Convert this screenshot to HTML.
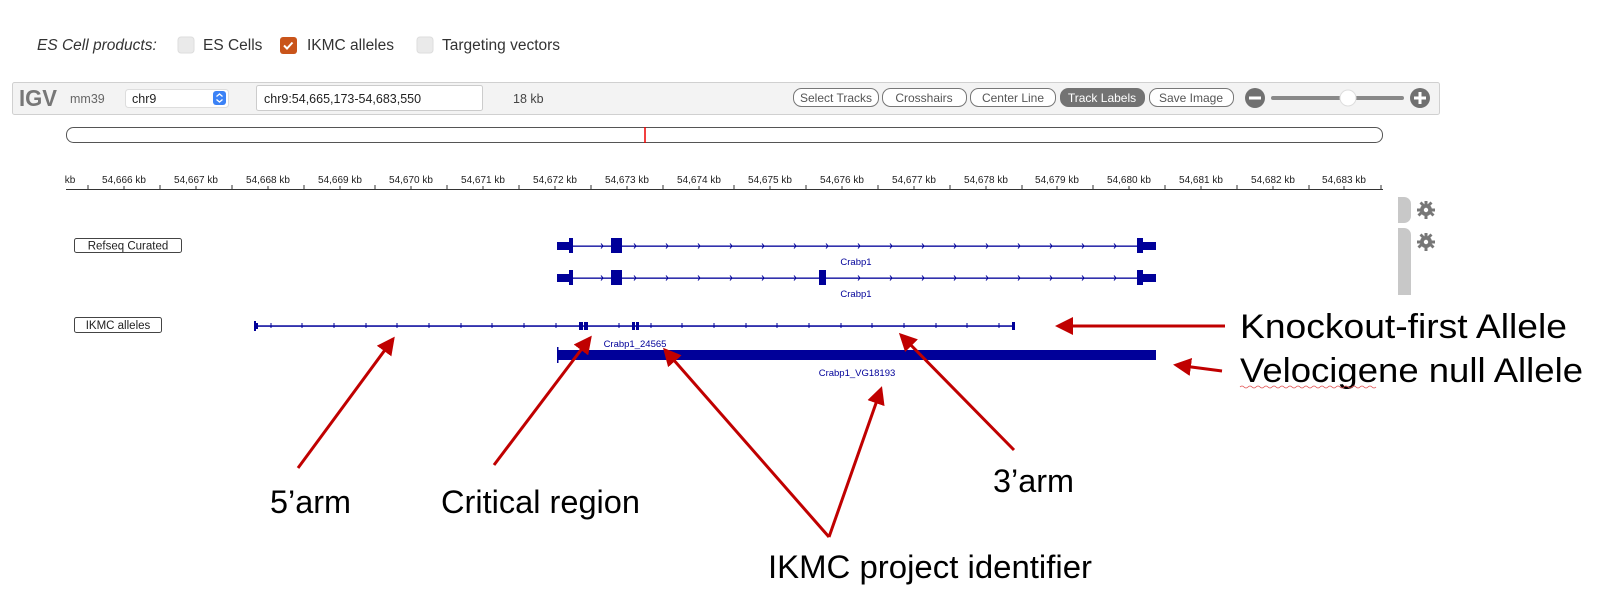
<!DOCTYPE html>
<html><head><meta charset="utf-8"><style>
html,body{margin:0;padding:0;background:#fff;width:1600px;height:614px;overflow:hidden}
svg{display:block}
</style></head><body>
<svg width="1600" height="614" xmlns="http://www.w3.org/2000/svg" font-family="Liberation Sans, Arial, sans-serif">
<!-- header -->
<text x="37" y="50" font-size="15.5" font-style="italic" fill="#333">ES Cell products:</text>
<rect x="178" y="37" width="16" height="16" rx="3" fill="#eaeaea" stroke="#ddd"/>
<text x="203" y="50" font-size="15.5" fill="#333">ES Cells</text>
<rect x="280" y="37" width="17" height="17" rx="3" fill="#c9541a"/>
<path d="M284 45.5 l3 3 l5.5 -6" stroke="#fff" stroke-width="2" fill="none"/>
<text x="307" y="50" font-size="15.5" fill="#333">IKMC alleles</text>
<rect x="417" y="37" width="16" height="16" rx="3" fill="#eaeaea" stroke="#ddd"/>
<text x="442" y="50" font-size="15.5" fill="#333">Targeting vectors</text>

<!-- IGV bar -->
<rect x="12.5" y="82.5" width="1427" height="32" rx="2" fill="#f3f3f3" stroke="#d0d0d0"/>
<text x="19" y="106" font-size="23" font-weight="bold" fill="#777" textLength="38" lengthAdjust="spacingAndGlyphs">IGV</text>
<text x="70" y="103" font-size="12.5" fill="#666">mm39</text>
<rect x="125.5" y="89.5" width="103" height="18" rx="3" fill="#fff" stroke="#ddd"/>
<text x="132" y="103" font-size="12.5" fill="#222">chr9</text>
<rect x="213" y="91" width="13" height="14" rx="3" fill="#3b82f6"/>
<path d="M216.5 96.5 l3 -2.5 l3 2.5 M216.5 99.5 l3 2.5 l3 -2.5" stroke="#fff" stroke-width="1.3" fill="none"/>
<rect x="256.5" y="85.5" width="226" height="25" rx="2" fill="#fff" stroke="#ccc"/>
<text x="264" y="103" font-size="12.5" fill="#222">chr9:54,665,173-54,683,550</text>
<text x="513" y="103" font-size="12.5" fill="#444">18 kb</text>
<g font-size="12" text-anchor="middle">
<rect x="793.5" y="88.5" width="85" height="18" rx="8" fill="#fff" stroke="#777"/><text x="836" y="102" fill="#555">Select Tracks</text>
<rect x="882.5" y="88.5" width="84" height="18" rx="8" fill="#fff" stroke="#777"/><text x="924" y="102" fill="#555">Crosshairs</text>
<rect x="970.5" y="88.5" width="85" height="18" rx="8" fill="#fff" stroke="#777"/><text x="1013" y="102" fill="#555">Center Line</text>
<rect x="1060.5" y="88.5" width="84" height="18" rx="8" fill="#737373" stroke="#737373"/><text x="1102" y="102" fill="#fff">Track Labels</text>
<rect x="1149.5" y="88.5" width="84" height="18" rx="8" fill="#fff" stroke="#777"/><text x="1191" y="102" fill="#555">Save Image</text>
</g>
<circle cx="1255" cy="98" r="10" fill="#707070"/><rect x="1249" y="96.5" width="12" height="3" fill="#fff"/>
<rect x="1271" y="96" width="133" height="4" rx="2" fill="#888"/>
<circle cx="1348" cy="98" r="8" fill="#fff" stroke="#ddd"/>
<circle cx="1420" cy="98" r="10" fill="#707070"/><rect x="1414" y="96.5" width="12" height="3" fill="#fff"/><rect x="1418.5" y="92" width="3" height="12" fill="#fff"/>

<!-- ideogram -->
<rect x="66.5" y="127.5" width="1316" height="15" rx="7" fill="#fff" stroke="#555"/>
<line x1="645" y1="127" x2="645" y2="143" stroke="#e00" stroke-width="1.5"/>

<!-- ruler -->
<g font-size="10" fill="#222" text-anchor="middle" id="ruler">
<text x="70" y="183" text-anchor="middle">kb</text>
<text x="124" y="183">54,666 kb</text><text x="196" y="183">54,667 kb</text><text x="268" y="183">54,668 kb</text><text x="340" y="183">54,669 kb</text><text x="411" y="183">54,670 kb</text><text x="483" y="183">54,671 kb</text><text x="555" y="183">54,672 kb</text><text x="627" y="183">54,673 kb</text><text x="699" y="183">54,674 kb</text><text x="770" y="183">54,675 kb</text><text x="842" y="183">54,676 kb</text><text x="914" y="183">54,677 kb</text><text x="986" y="183">54,678 kb</text><text x="1057" y="183">54,679 kb</text><text x="1129" y="183">54,680 kb</text><text x="1201" y="183">54,681 kb</text><text x="1273" y="183">54,682 kb</text><text x="1344" y="183">54,683 kb</text>
</g>
<line x1="66" y1="189.5" x2="1383" y2="189.5" stroke="#333"/>
<path stroke="#333" d="M88 189v-4M160 189v-4M232 189v-4M304 189v-4M375 189v-4M447 189v-4M519 189v-4M591 189v-4M663 189v-4M734 189v-4M806 189v-4M878 189v-4M950 189v-4M1022 189v-4M1093 189v-4M1165 189v-4M1237 189v-4M1309 189v-4M1381 189v-4M124 189v-3M196 189v-3M268 189v-3M340 189v-3M411 189v-3M483 189v-3M555 189v-3M627 189v-3M699 189v-3M770 189v-3M842 189v-3M914 189v-3M986 189v-3M1057 189v-3M1129 189v-3M1201 189v-3M1273 189v-3M1344 189v-3"/>

<!-- side bars & gears -->
<path d="M1398 197h6a7 7 0 0 1 7 7v12a7 7 0 0 1 -7 7h-6z" fill="#c8c8c8"/>
<path d="M1398 228h6a7 7 0 0 1 7 7v60h-13z" fill="#c8c8c8"/>
<g fill="#777">
<circle cx="1426" cy="210" r="6"/><circle cx="1426" cy="242" r="6"/>
<path d="M1424.5 201h3v18h-3zM1417 208.5h18v3h-18z"/><path d="M1424.5 233h3v18h-3zM1417 240.5h18v3h-18z"/>
<path d="M1419.5 203.5l2 -2l13 13l-2 2zM1430.5 201.5l2 2l-13 13l-2 -2z"/><path d="M1419.5 235.5l2 -2l13 13l-2 2zM1430.5 233.5l2 2l-13 13l-2 -2z"/>
</g>
<circle cx="1426" cy="210" r="2.2" fill="#fff"/><circle cx="1426" cy="242" r="2.2" fill="#fff"/>

<!-- track labels -->
<rect x="74.5" y="238.5" width="107" height="14" rx="2" fill="#fff" stroke="#444"/>
<text x="128" y="249.5" font-size="11.5" text-anchor="middle" fill="#222">Refseq Curated</text>
<rect x="74.5" y="317.5" width="87" height="15" rx="2" fill="#fff" stroke="#444"/>
<text x="118" y="329" font-size="11.5" text-anchor="middle" fill="#222">IKMC alleles</text>

<!-- genes -->
<g fill="#000099" stroke="none">
<rect x="557" y="245.5" width="580" height="1.3"/>
<rect x="557" y="242" width="12" height="8"/><rect x="569" y="238" width="4" height="15"/>
<rect x="611" y="238" width="11" height="15"/>
<rect x="1137" y="238" width="6" height="15"/><rect x="1143" y="242" width="13" height="8"/>
<rect x="557" y="277.5" width="580" height="1.3"/>
<rect x="557" y="274" width="12" height="8"/><rect x="569" y="270" width="4" height="15"/>
<rect x="611" y="270" width="11" height="15"/>
<rect x="819" y="270" width="7" height="15"/>
<rect x="1137" y="270" width="6" height="15"/><rect x="1143" y="274" width="13" height="8"/>
</g>
<g stroke="#000099" stroke-width="1" fill="none">
<path d="M601 243.5l2 2.5l-2 2.5M634 243.5l2 2.5l-2 2.5M666 243.5l2 2.5l-2 2.5M698 243.5l2 2.5l-2 2.5M730 243.5l2 2.5l-2 2.5M762 243.5l2 2.5l-2 2.5M794 243.5l2 2.5l-2 2.5M826 243.5l2 2.5l-2 2.5M858 243.5l2 2.5l-2 2.5M890 243.5l2 2.5l-2 2.5M922 243.5l2 2.5l-2 2.5M954 243.5l2 2.5l-2 2.5M986 243.5l2 2.5l-2 2.5M1018 243.5l2 2.5l-2 2.5M1050 243.5l2 2.5l-2 2.5M1082 243.5l2 2.5l-2 2.5M1114 243.5l2 2.5l-2 2.5"/>
<path d="M601 275.5l2 2.5l-2 2.5M634 275.5l2 2.5l-2 2.5M666 275.5l2 2.5l-2 2.5M698 275.5l2 2.5l-2 2.5M730 275.5l2 2.5l-2 2.5M762 275.5l2 2.5l-2 2.5M794 275.5l2 2.5l-2 2.5M858 275.5l2 2.5l-2 2.5M890 275.5l2 2.5l-2 2.5M922 275.5l2 2.5l-2 2.5M954 275.5l2 2.5l-2 2.5M986 275.5l2 2.5l-2 2.5M1018 275.5l2 2.5l-2 2.5M1050 275.5l2 2.5l-2 2.5M1082 275.5l2 2.5l-2 2.5M1114 275.5l2 2.5l-2 2.5"/>
</g>
<text x="856" y="265" font-size="9.5" fill="#000099" text-anchor="middle">Crabp1</text>
<text x="856" y="297" font-size="9.5" fill="#000099" text-anchor="middle">Crabp1</text>

<!-- IKMC alleles -->
<g fill="#000099">
<rect x="255" y="325.3" width="760" height="1.5"/>
<rect x="254" y="321" width="2" height="10"/><rect x="256" y="323" width="2" height="6"/>
<rect x="1012" y="322" width="3" height="8"/>
<rect x="579" y="322" width="4" height="8"/><rect x="584" y="322" width="4" height="8"/>
<rect x="632" y="322" width="3" height="8"/><rect x="636" y="322" width="3" height="8"/>
<rect x="557" y="350" width="599" height="10"/><rect x="557" y="347" width="1.5" height="16"/>
</g>
<path stroke="#000099" d="M271 323v5M302 323v5M334 323v5M366 323v5M397 323v5M429 323v5M461 323v5M492 323v5M524 323v5M556 323v5M619 323v5M651 323v5M682 323v5M714 323v5M746 323v5M777 323v5M809 323v5M841 323v5M872 323v5M904 323v5M936 323v5M967 323v5M999 323v5"/>
<text x="635" y="347" font-size="9.5" fill="#000099" text-anchor="middle">Crabp1_24565</text>
<text x="857" y="376" font-size="9.5" fill="#000099" text-anchor="middle">Crabp1_VG18193</text>

<!-- annotation arrows -->
<defs><marker id="ah" markerWidth="6" markerHeight="6" refX="5" refY="3" orient="auto" markerUnits="strokeWidth"><path d="M0 0L6 3L0 6z" fill="#c00000"/></marker></defs>
<g stroke="#c00000" stroke-width="3" fill="none" marker-end="url(#ah)">
<line x1="1225" y1="326" x2="1058" y2="326"/>
<line x1="1222" y1="371" x2="1176" y2="365"/>
<line x1="298" y1="468" x2="393" y2="339"/>
<line x1="494" y1="465" x2="590" y2="338"/>
<line x1="1014" y1="450" x2="901" y2="335"/>
<line x1="829" y1="537" x2="665" y2="350"/>
<line x1="829" y1="537" x2="881" y2="389"/>
</g>

<!-- annotation text -->
<g fill="#000">
<text x="1240" y="338" font-size="34" textLength="327" lengthAdjust="spacingAndGlyphs">Knockout-first Allele</text>
<text x="1240" y="382" font-size="34" textLength="343" lengthAdjust="spacingAndGlyphs">Velocigene null Allele</text>
<text x="270" y="513" font-size="32" textLength="81" lengthAdjust="spacingAndGlyphs">5’arm</text>
<text x="441" y="513" font-size="32" textLength="199" lengthAdjust="spacingAndGlyphs">Critical region</text>
<text x="993" y="492" font-size="32" textLength="81" lengthAdjust="spacingAndGlyphs">3’arm</text>
<text x="768" y="578" font-size="32" textLength="324" lengthAdjust="spacingAndGlyphs">IKMC project identifier</text>
</g>
<path d="M1240 387q2 -2 4 0t4 0t4 0t4 0t4 0t4 0t4 0t4 0t4 0t4 0t4 0t4 0t4 0t4 0t4 0t4 0t4 0t4 0t4 0t4 0t4 0t4 0t4 0t4 0t4 0t4 0t4 0t4 0t4 0t4 0t4 0t4 0t4 0t4 0" stroke="#e05050" stroke-width="0.8" fill="none"/>
</svg>
</body></html>
